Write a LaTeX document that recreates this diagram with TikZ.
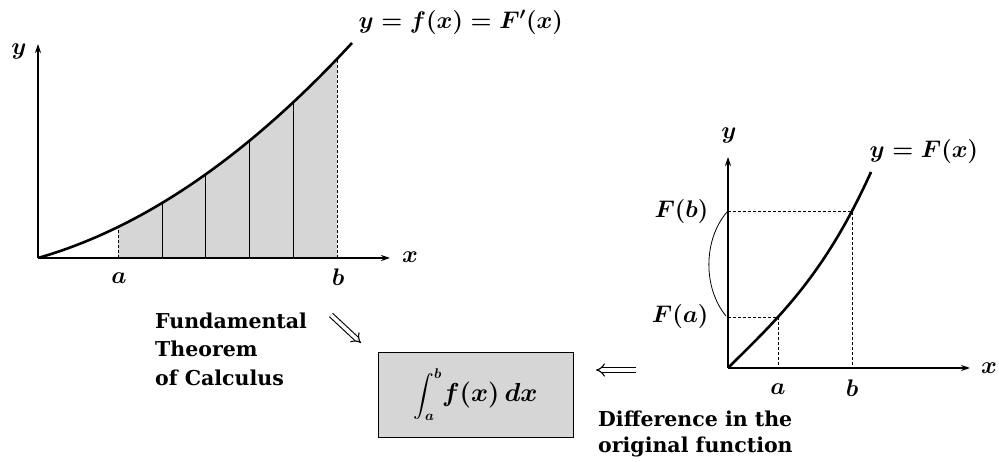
\RequirePackage{fix-cm}
\documentclass[tikz,border=0pt]{standalone}
\usepackage{amsmath}
\usepackage[no-math]{fontspec}
\setmainfont{DejaVu Serif}
\usetikzlibrary{arrows.meta}
\begin{document}
\begin{tikzpicture}[x=1pt,y=-1pt,
  axis/.style={line width=1.3pt,-{Stealth[length=9pt,width=6pt]}},
  curve/.style={line width=2.6pt},
  guide/.style={densely dashed,line width=0.8pt},
  strip/.style={line width=0.9pt},
  lbl/.style={font=\fontsize{24}{26}\selectfont\boldmath},
  txt/.style={font=\fontsize{20.5}{28.5}\selectfont\bfseries,align=left,inner sep=0pt},
  dbl/.style={double,double distance=3.5pt,line width=1.1pt,-{Implies}}]
\useasboundingbox (0,0) rectangle (999,462);
% ---------- left graph ----------
\coordinate (O1) at (38,258);
\coordinate (X1) at (390,258);
\coordinate (Y1) at (38,44);
\fill[black!16] (118,258) -- plot[domain=118:337,samples=60]
  (\x,{258-28.6*((\x-38)/100)-12.7*((\x-38)/100)^2}) -- (337,258) -- cycle;
\foreach \xx in {162,205,249,293}
  \draw[strip] (\xx,258) -- (\xx,{258-28.6*((\xx-38)/100)-12.7*((\xx-38)/100)^2});
\foreach \xx in {118,337}
  \draw[guide] (\xx,258) -- (\xx,{258-28.6*((\xx-38)/100)-12.7*((\xx-38)/100)^2});
\draw[axis] (O1) -- (X1);
\draw[axis] (O1) -- (Y1);
\draw[curve] plot[domain=38:352,samples=80]
  (\x,{258-28.6*((\x-38)/100)-12.7*((\x-38)/100)^2});
\node[lbl] (ly1) at (19,52) {$y$};
\node[lbl] (lx1) at (410,257) {$x$};
\node[lbl] (la1) at (119,278) {$a$};
\node[lbl] (lb1) at (338,277) {$b$};
\node[lbl,anchor=west] (lf) at (355,22) {$y=f(x)=F'(x)$};
% ---------- right graph ----------
\coordinate (O2) at (728,368);
\coordinate (X2) at (970,368);
\coordinate (Y2) at (728,157);
\coordinate (Pa) at (778,317);
\coordinate (Pb) at (852,211);
\coordinate (Fa) at (726,316);
\coordinate (Fb) at (727,212);
\draw[guide] (728,211) -- (Pb) -- (852,368);
\draw[guide] (728,317) -- (Pa) -- (778,368);
\draw[axis] (O2) -- (X2);
\draw[axis] (O2) -- (Y2);
\draw[curve] plot[domain=728:871,samples=60]
  (\x,{368-99.86*((\x-728)/100)+7.41*((\x-728)/100)^2-23.37*((\x-728)/100)^3});
\draw[line width=0.8pt] (Fb) .. controls (703,240) and (703,288) .. (Fa);
\node[lbl] (ly2) at (729,136) {$y$};
\node[lbl] (lx2) at (989,368) {$x$};
\node[lbl] (la2) at (778,389) {$a$};
\node[lbl] (lb2) at (852,388) {$b$};
\node[lbl,anchor=west] (lF) at (866,152) {$y=F(x)$};
\node[lbl,anchor=east] (lFb) at (712,212) {$F(b)$};
\node[lbl,anchor=east] (lFa) at (712,317) {$F(a)$};
% ---------- bottom ----------
\node[draw,line width=0.9pt,fill=black!16,minimum width=195pt,minimum height=85pt] (box) at (475.5,394.5)
  {{\fontsize{20}{24}\selectfont\boldmath$\displaystyle\int_{a}^{b}$}{\fontsize{26}{28}\selectfont\boldmath$f(x)\,dx$}};
\node[txt,anchor=base west] (fund) at (155,385) {Fundamental\\Theorem\\of Calculus};
\coordinate (s1) at (331,315);
\coordinate (e1) at (361,343);
\draw[dbl] (s1) -- (e1);
\coordinate (s2) at (636,370);
\coordinate (e2) at (596,370);
\draw[dbl] (s2) -- (e2);
\node[txt,anchor=base west,font=\fontsize{20.5}{26}\selectfont\bfseries] (diff) at (598,452) {Difference in the\\original function};
\end{tikzpicture}
\end{document}
